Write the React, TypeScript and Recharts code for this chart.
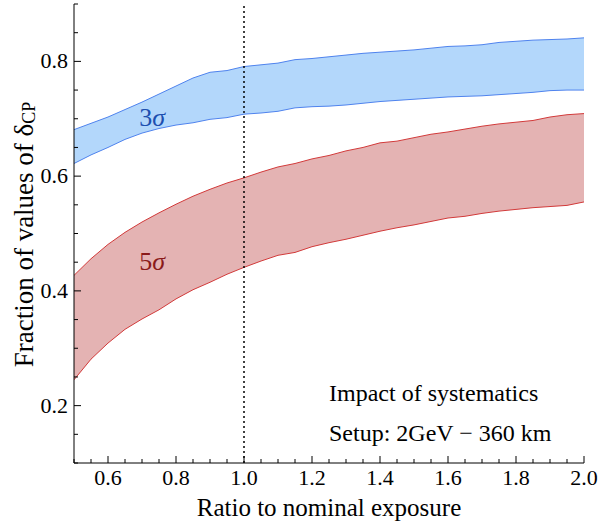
import React from 'react';
import { ComposedChart, Area, XAxis, YAxis, ReferenceLine, ReferenceDot, Label } from 'recharts';

const exposure = [0.5, 0.55, 0.6, 0.65, 0.7, 0.75, 0.8, 0.85, 0.9, 0.95, 1.0, 1.05, 1.1, 1.15, 1.2, 1.25, 1.3, 1.35, 1.4, 1.45, 1.5, 1.55, 1.6, 1.65, 1.7, 1.75, 1.8, 1.85, 1.9, 1.95, 2.0];
const sigma3High = [0.681, 0.692, 0.703, 0.716, 0.729, 0.743, 0.757, 0.771, 0.781, 0.784, 0.791, 0.794, 0.797, 0.803, 0.805, 0.808, 0.811, 0.814, 0.816, 0.818, 0.820, 0.823, 0.826, 0.827, 0.829, 0.833, 0.835, 0.837, 0.838, 0.839, 0.841];
const sigma3Low = [0.622, 0.637, 0.650, 0.664, 0.675, 0.683, 0.689, 0.693, 0.699, 0.702, 0.708, 0.710, 0.713, 0.719, 0.721, 0.722, 0.724, 0.727, 0.730, 0.732, 0.734, 0.736, 0.738, 0.739, 0.740, 0.742, 0.744, 0.746, 0.749, 0.750, 0.750];
const sigma5High = [0.427, 0.456, 0.481, 0.502, 0.520, 0.536, 0.551, 0.565, 0.577, 0.588, 0.597, 0.607, 0.616, 0.622, 0.630, 0.636, 0.644, 0.650, 0.658, 0.661, 0.667, 0.673, 0.677, 0.682, 0.687, 0.691, 0.694, 0.697, 0.703, 0.707, 0.709];
const sigma5Low = [0.245, 0.281, 0.309, 0.333, 0.351, 0.367, 0.386, 0.402, 0.415, 0.429, 0.441, 0.452, 0.462, 0.467, 0.477, 0.484, 0.490, 0.497, 0.504, 0.510, 0.515, 0.521, 0.527, 0.530, 0.535, 0.539, 0.542, 0.545, 0.547, 0.549, 0.555];

const xTicksAll = [0.5, 0.55, 0.6, 0.65, 0.7, 0.75, 0.8, 0.85, 0.9, 0.95, 1.0, 1.05, 1.1, 1.15, 1.2, 1.25, 1.3, 1.35, 1.4, 1.45, 1.5, 1.55, 1.6, 1.65, 1.7, 1.75, 1.8, 1.85, 1.9, 1.95, 2.0];
const xTickLabels = [0.6, 0.8, 1.0, 1.2, 1.4, 1.6, 1.8, 2.0];
const yTicksAll = [0.1, 0.15, 0.2, 0.25, 0.3, 0.35, 0.4, 0.45, 0.5, 0.55, 0.6, 0.65, 0.7, 0.75, 0.8, 0.85, 0.9];
const yTickLabels = [0.2, 0.4, 0.6, 0.8];

const data = exposure.map((x, i) => ({
  x,
  s3: [sigma3Low[i], sigma3High[i]],
  s5: [sigma5Low[i], sigma5High[i]],
}));

const FONT = '"Liberation Serif", "Times New Roman", serif';
const TICK_FS = 22;
const X_LABEL_FS = 25;
const NOTE_FS = 24;
const Y_LABEL_FS = 27;
const SIGMA_FS = 26;

const isIn = (v: number, arr: number[]) => arr.some((a) => Math.abs(a - v) < 1e-6);

const makeXTick = (dir: number, showLabel: boolean) => (props: any) => {
  const { x, y, payload } = props;
  const v = payload.value;
  const major = isIn(v, xTickLabels);
  const len = major ? 7 : 4;
  return (
    <g>
      <line x1={x} y1={y} x2={x} y2={y + dir * len} stroke="#000" strokeWidth={1} />
      {showLabel && major && (
        <text x={x} y={y + 22} textAnchor="middle" fontSize={TICK_FS} style={{ fontFamily: FONT }} fill="#000">
          {v.toFixed(1)}
        </text>
      )}
    </g>
  );
};

const makeYTick = (dir: number, showLabel: boolean) => (props: any) => {
  const { x, y, payload } = props;
  const v = payload.value;
  const major = isIn(v, yTickLabels);
  const len = major ? 7 : 4;
  return (
    <g>
      <line x1={x} y1={y} x2={x + dir * len} y2={y} stroke="#000" strokeWidth={1} />
      {showLabel && major && (
        <text x={x - 6} y={y + 7} textAnchor="end" fontSize={TICK_FS} style={{ fontFamily: FONT }} fill="#000">
          {v.toFixed(1)}
        </text>
      )}
    </g>
  );
};

const textAt = (content: React.ReactNode, color: string, anchor: string, fs: number) => (p: any) => {
  const vb = p.viewBox || {};
  return (
    <text x={vb.x} y={vb.y + fs * 0.33} textAnchor={anchor} fontSize={fs} style={{ fontFamily: FONT }} fill={color}>
      {content}
    </text>
  );
};

export default function App() {
  return (
    <div style={{ position: 'absolute', left: 0, top: 0, width: 614, height: 524, background: '#fff' }}>
      <ComposedChart
        width={614}
        height={524}
        data={data}
        margin={{ top: 4, right: 30, bottom: 0, left: 0 }}
      >
        <Area
          type="linear"
          dataKey="s3"
          fill="#b3d7fb"
          fillOpacity={1}
          stroke="#4f83ee"
          strokeWidth={1}
          isAnimationActive={false}
          dot={false}
          activeDot={false}
        />
        <Area
          type="linear"
          dataKey="s5"
          fill="#e4b3b3"
          fillOpacity={1}
          stroke="#d23a3a"
          strokeWidth={1}
          isAnimationActive={false}
          dot={false}
          activeDot={false}
        />
        <ReferenceLine x={1.0} stroke="#000" strokeWidth={1.5} strokeDasharray="2 3" />
        <XAxis
          dataKey="x"
          type="number"
          domain={[0.5, 2.0]}
          ticks={xTicksAll}
          interval={0}
          allowDataOverflow
          height={61}
          tickSize={0}
          tickMargin={0}
          tickLine={false}
          axisLine={{ stroke: '#000', strokeWidth: 1 }}
          tick={makeXTick(-1, true)}
        >
          <Label
            content={(p: any) => {
              const vb = p.viewBox;
              return (
                <text x={vb.x + vb.width / 2} y={vb.y + 53} textAnchor="middle" fontSize={X_LABEL_FS} style={{ fontFamily: FONT }} fill="#000">
                  Ratio to nominal exposure
                </text>
              );
            }}
          />
        </XAxis>
        <XAxis
          xAxisId="top"
          orientation="top"
          dataKey="x"
          type="number"
          domain={[0.5, 2.0]}
          ticks={xTicksAll}
          interval={0}
          allowDataOverflow
          height={0}
          tickSize={0}
          tickMargin={0}
          tickLine={false}
          axisLine={{ stroke: '#000', strokeWidth: 1 }}
          tick={makeXTick(1, false)}
        />
        <YAxis
          type="number"
          domain={[0.1, 0.9]}
          ticks={yTicksAll}
          interval={0}
          allowDataOverflow
          width={74}
          tickSize={0}
          tickMargin={0}
          tickLine={false}
          axisLine={{ stroke: '#000', strokeWidth: 1 }}
          tick={makeYTick(1, true)}
        >
          <Label
            content={(p: any) => {
              const vb = p.viewBox;
              const cx = 33;
              const cy = vb.y + vb.height / 2 + 1;
              return (
                <text
                  x={cx}
                  y={cy}
                  transform={`rotate(-90 ${cx} ${cy})`}
                  textAnchor="middle"
                  fontSize={Y_LABEL_FS}
                  style={{ fontFamily: FONT }}
                  fill="#000"
                >
                  Fraction of values of δ
                  <tspan fontSize={18} dy={2}>CP</tspan>
                </text>
              );
            }}
          />
        </YAxis>
        <YAxis
          yAxisId="right"
          orientation="right"
          type="number"
          domain={[0.1, 0.9]}
          ticks={yTicksAll}
          interval={0}
          allowDataOverflow
          width={0}
          tickSize={0}
          tickMargin={0}
          tickLine={false}
          axisLine={{ stroke: '#000', strokeWidth: 1 }}
          tick={makeYTick(-1, false)}
        />
        <ReferenceDot x={0.73} y={0.703} r={0} fill="none" stroke="none" ifOverflow="visible">
          <Label
            content={textAt(
              <>
                3<tspan fontStyle="italic">σ</tspan>
              </>,
              '#1d4fb0',
              'middle',
              SIGMA_FS
            )}
          />
        </ReferenceDot>
        <ReferenceDot x={0.73} y={0.451} r={0} fill="none" stroke="none" ifOverflow="visible">
          <Label
            content={textAt(
              <>
                5<tspan fontStyle="italic">σ</tspan>
              </>,
              '#8a1a1a',
              'middle',
              SIGMA_FS
            )}
          />
        </ReferenceDot>
        <ReferenceDot x={1.25} y={0.222} r={0} fill="none" stroke="none" ifOverflow="visible">
          <Label content={textAt('Impact of systematics', '#000', 'start', NOTE_FS)} />
        </ReferenceDot>
        <ReferenceDot x={1.25} y={0.152} r={0} fill="none" stroke="none" ifOverflow="visible">
          <Label content={textAt('Setup: 2GeV \u2212 360 km', '#000', 'start', NOTE_FS)} />
        </ReferenceDot>
      </ComposedChart>
    </div>
  );
}
